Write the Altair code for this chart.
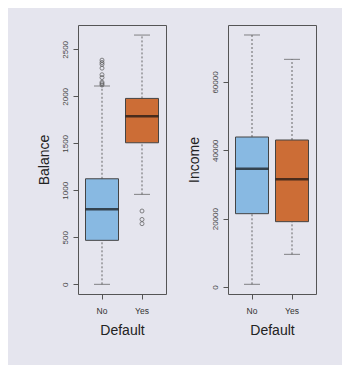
import altair as alt
import pandas as pd

groups = ["No", "Yes"]
colors = ["#88b9e2", "#cc6d36"]

# Balance box statistics
bal_lower = [0, 957]
bal_q1 = [468, 1506]
bal_median = [798, 1787]
bal_q3 = [1123, 1978]
bal_upper = [2110, 2652]
bal_out_group = ["No"] * 9 + ["Yes"] * 3
bal_out_value = [2120, 2135, 2150, 2200, 2230, 2300, 2340, 2360, 2385, 780, 690, 645]

# Income box statistics
inc_lower = [790, 9560]
inc_q1 = [21460, 19120]
inc_median = [34630, 31520]
inc_q3 = [43900, 43020]
inc_upper = [73760, 66630]

bal_ticks = [0, 500, 1000, 1500, 2000, 2500]
inc_ticks = [0, 20000, 40000, 60000]

BG = "#e5e5ee"
W, H = 88, 269


def panel(title, lower, q1, med, q3, upper, ticks, domain, out_g=None, out_v=None):
    df = pd.DataFrame({"g": groups, "lower": lower, "q1": q1, "median": med,
                       "q3": q3, "upper": upper})
    xs = alt.X("g:N", scale=alt.Scale(domain=groups, paddingInner=0.175, paddingOuter=0.1875),
               axis=alt.Axis(title="Default", labelAngle=0, tickSize=5, labelPadding=7,
                             titlePadding=9, labelFontSize=8.5, titleFontSize=14,
                             labelColor="#333", titleColor="#222", titleFontWeight="normal",
                             domain=False, tickColor="#555",
                             labelFont="Liberation Sans", titleFont="Liberation Sans"))
    ysc = alt.Scale(domain=domain, nice=False, zero=False)
    yax = alt.Axis(title=title, values=ticks, labelAngle=270, tickSize=5, labelPadding=4,
                   titlePadding=10, labelFontSize=8, titleFontSize=14, labelColor="#444",
                   titleColor="#222", titleFontWeight="normal", domain=False, grid=False,
                   tickColor="#555", format="d", labelAlign="center", labelBaseline="bottom",
                   labelFont="Liberation Sans", titleFont="Liberation Sans")
    base = alt.Chart(df)
    wu = base.mark_rule(strokeDash=[2, 2], color="#666", strokeWidth=1).encode(
        x=xs, y=alt.Y("q3:Q", scale=ysc, axis=yax), y2="upper:Q")
    wl = base.mark_rule(strokeDash=[2, 2], color="#666", strokeWidth=1).encode(
        x=xs, y=alt.Y("lower:Q", scale=ysc), y2="q1:Q")
    cap_u = base.mark_tick(orient="horizontal", size=16, thickness=1, color="#555").encode(
        x=xs, y=alt.Y("upper:Q", scale=ysc))
    cap_l = base.mark_tick(orient="horizontal", size=16, thickness=1, color="#555").encode(
        x=xs, y=alt.Y("lower:Q", scale=ysc))
    box = base.mark_bar(stroke="#444", strokeWidth=1).encode(
        x=xs, y=alt.Y("q1:Q", scale=ysc), y2="q3:Q",
        color=alt.Color("g:N", scale=alt.Scale(domain=groups, range=colors), legend=None))
    med_t = base.mark_tick(orient="horizontal", size=33, thickness=2.5, color="#111").encode(
        x=xs, y=alt.Y("median:Q", scale=ysc))
    layers = [wu, wl, cap_u, cap_l, box, med_t]
    if out_g is not None:
        odf = pd.DataFrame({"g": out_g, "v": out_v})
        pts = alt.Chart(odf).mark_point(shape="circle", filled=False, size=16, color="#555",
                                        strokeWidth=1).encode(
            x=xs, y=alt.Y("v:Q", scale=ysc))
        layers.append(pts)
    return alt.layer(*layers).properties(width=W, height=H)


left = panel("Balance", bal_lower, bal_q1, bal_median, bal_q3, bal_upper, bal_ticks,
             [-103, 2759], bal_out_group, bal_out_value)
right = panel("Income", inc_lower, inc_q1, inc_median, inc_q3, inc_upper, inc_ticks,
              [-2050, 76680])

chart = alt.hconcat(left, right, spacing=19).properties(
    background=BG, padding={"left": 28, "top": 16, "right": 25, "bottom": 30}
).configure_view(stroke="#555", strokeWidth=1)

chart.save("out.html", embed_options={"renderer": "svg", "actions": False})
